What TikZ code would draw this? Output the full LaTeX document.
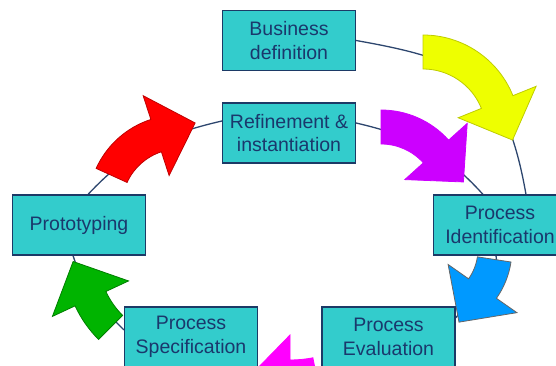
\documentclass[tikz,border=0pt]{standalone}
\usepackage{fontspec}
\setmainfont{Liberation Sans}
\usepackage{tikz}
\usetikzlibrary{backgrounds}

\definecolor{stagefill}{RGB}{51,204,204}
\definecolor{stageline}{RGB}{28,58,102}
\definecolor{stagetext}{RGB}{26,56,108}
\definecolor{ringline}{RGB}{45,70,110}
\definecolor{arryellow}{RGB}{238,255,0}
\definecolor{arrpurple}{RGB}{204,0,255}
\definecolor{arrblue}{RGB}{0,153,255}
\definecolor{arrmagenta}{RGB}{255,0,255}
\definecolor{arrgreen}{RGB}{0,180,0}
\definecolor{arrred}{RGB}{255,0,0}

% curved block arrow: style, centre, mid radius, start angle, end angle
\newcommand{\bentarrow}[5]{
  \filldraw[#1, shift={#2}] (#4:#3+17) arc[start angle=#4, end angle=#5, radius=#3+17]
    -- (#5:#3+42) -- ({#5-atan(41/#3)}:{veclen(#3,41)}) -- (#5:#3-42)
    -- (#5:#3-17) arc[start angle=#5, end angle=#4, radius=#3-17] -- cycle;
}
\tikzset{stage/.style={rectangle, draw=stageline, fill=stagefill, line width=1.1pt,
  minimum width=133pt, minimum height=60pt, align=center, text=stagetext,
  font=\fontsize{19.5}{23.5}\selectfont}}
\tikzset{ring/.style={draw=ringline, line width=1.3pt}}
\tikzset{yellowarrow/.style={fill=arryellow, draw=arryellow!80!black, line width=.8pt}}
\tikzset{purplearrow/.style={fill=arrpurple, draw=arrpurple, line width=.8pt}}
\tikzset{bluearrow/.style={fill=arrblue, draw=black!60, line width=.8pt}}
\tikzset{magentaarrow/.style={fill=arrmagenta, draw=arrmagenta, line width=.8pt}}
\tikzset{greenarrow/.style={fill=arrgreen, draw=arrgreen!70!black, line width=.8pt}}
\tikzset{redarrow/.style={fill=arrred, draw=arrred!75!black, line width=.8pt}}

\begin{document}
\begin{tikzpicture}[x=1pt, y=1pt]
  \useasboundingbox (0,0) rectangle (556,366);

  \node [stage] (bus) at (289, 325.5) {Business\\definition};
  \node [stage] (refine) at (289, 233) {Refinement \&\\instantiation};
  \node [stage] (proto) at (79, 141) {Prototyping};
  \node [stage] (procid) at (500, 141) {Process\\Identification};
  \node [stage] (eval) at (388.5, 29) {Process\\Evaluation};
  \node [stage] (spec) at (191, 29) {Process\\Specification};

  \begin{pgfonlayer}{background}
    \draw[ring] (bus.east) to[out=-10, in=100, looseness=1.3] ([xshift=26]procid.north);
    \draw[ring] ([yshift=10]refine.east) to[out=-13, in=132] ([xshift=-17]procid.north);
    \draw[ring] ([yshift=12]refine.west) to[out=193, in=47] ([xshift=9]proto.north);
    \draw[ring] ([xshift=-6]proto.south) to[out=-72, in=135] ([yshift=7]spec.west);
    \draw[ring] ([xshift=-4]procid.south) to[out=-80, in=51] ([yshift=19]eval.east);

    \bentarrow{yellowarrow}{(423,234)}{80}{90}{22}
    \bentarrow{purplearrow}{(381,165)}{74}{90}{42}
    \bentarrow{bluearrow}{(426,117)}{69}{-8.7}{-35}
    \bentarrow{magentaarrow}{(290,126)}{137}{-79}{-90}
    \bentarrow{greenarrow}{(182,110)}{101}{225}{205}
    \bentarrow{redarrow}{(179,160)}{74}{155.6}{108}
  \end{pgfonlayer}
\end{tikzpicture}
\end{document}
